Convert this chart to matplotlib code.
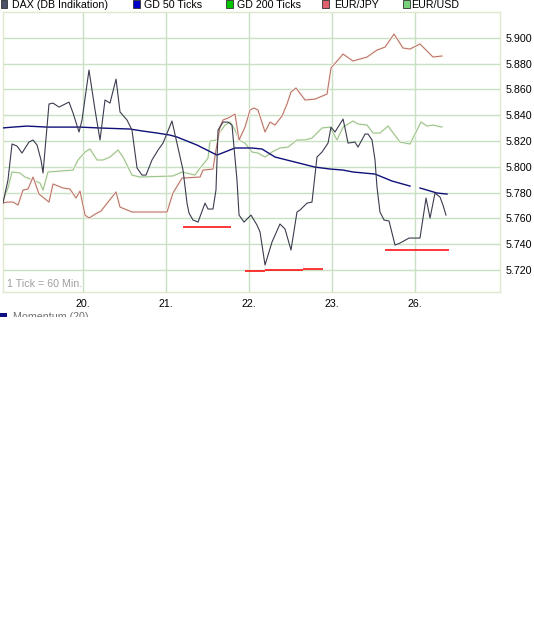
import numpy as np
import matplotlib
matplotlib.use("Agg")
import matplotlib.pyplot as plt
from matplotlib.patches import Rectangle
import matplotlib.patheffects as pe

plt.rcParams['font.family'] = ['Liberation Sans', 'DejaVu Sans']

# ---------------- data (time in trading days from "20.", price in points) ----------------
day_ticks = [0, 1, 2, 3, 4]
day_labels = ["20.", "21.", "22.", "23.", "26."]

price_ticks = [5.720, 5.740, 5.760, 5.780, 5.800, 5.820, 5.840, 5.860, 5.880, 5.900]
price_labels = ["5.720", "5.740", "5.760", "5.780", "5.800", "5.820", "5.840", "5.860", "5.880", "5.900"]

dax_time = [-0.964, -0.904, -0.855, -0.795, -0.735, -0.651, -0.602, -0.554, -0.506, -0.482,
            -0.434, -0.410, -0.361, -0.289, -0.169, -0.120, -0.048, -0.012, 0.072, 0.145,
            0.205, 0.265, 0.325, 0.398, 0.446, 0.530, 0.590, 0.651, 0.711, 0.759,
            0.831, 0.904, 0.964, 1.072, 1.205, 1.253, 1.277, 1.325, 1.386, 1.470,
            1.506, 1.566, 1.602, 1.627, 1.687, 1.747, 1.795, 1.855, 1.880, 1.940,
            2.024, 2.096, 2.133, 2.193, 2.277, 2.373, 2.434, 2.506, 2.578, 2.614,
            2.699, 2.759, 2.819, 2.880, 2.952, 2.988, 3.036, 3.133, 3.169, 3.193,
            3.277, 3.313, 3.398, 3.434, 3.482, 3.518, 3.542, 3.578, 3.627, 3.687,
            3.759, 3.819, 3.928, 4.060, 4.133, 4.181, 4.241, 4.301, 4.337, 4.373]
dax_value = [5.7719, 5.7898, 5.8177, 5.8161, 5.8107, 5.8192, 5.8208, 5.8169, 5.8053, 5.7952,
             5.8308, 5.8487, 5.8494, 5.8463, 5.8502, 5.8417, 5.8270, 5.8363, 5.8750, 5.8440,
             5.8208, 5.8518, 5.8494, 5.8680, 5.8425, 5.8363, 5.8285, 5.7991, 5.7936, 5.7936,
             5.8053, 5.8130, 5.8184, 5.8355, 5.7975, 5.7719, 5.7642, 5.7588, 5.7572, 5.7719,
             5.7673, 5.7673, 5.7820, 5.8285, 5.8347, 5.8347, 5.8324, 5.7898, 5.7626, 5.7572,
             5.7626, 5.7549, 5.7495, 5.7239, 5.7417, 5.7557, 5.7518, 5.7355, 5.7650, 5.7665,
             5.7719, 5.7727, 5.8076, 5.8115, 5.8184, 5.8308, 5.8270, 5.8370, 5.8262, 5.8184,
             5.8192, 5.8153, 5.8254, 5.8254, 5.8208, 5.8053, 5.7843, 5.7650, 5.7588, 5.7580,
             5.7394, 5.7409, 5.7448, 5.7448, 5.7758, 5.7603, 5.7797, 5.7766, 5.7704, 5.7626]

gd50_time = [-0.976, -0.843, -0.675, -0.434, -0.036, 0.205, 0.566, 0.723, 0.892, 1.048,
             1.133, 1.373, 1.614, 1.831, 2.036, 2.157, 2.313, 2.554, 2.795, 2.976,
             3.133, 3.253, 3.518, 3.723, 3.940, 4.000, 4.060, 4.265, 4.386]
gd50_value = [5.8301, 5.8308, 5.8316, 5.8308, 5.8308, 5.8301, 5.8293, 5.8277, 5.8262, 5.8246,
              5.8231, 5.8169, 5.8091, 5.8146, 5.8146, 5.8138, 5.8076, 5.8037, 5.7998, 5.7983,
              5.7975, 5.7960, 5.7944, 5.7890, 5.7851, np.nan, 5.7836, 5.7797, 5.7789]

eurjpy_time = [-0.964, -0.916, -0.843, -0.783, -0.723, -0.663, -0.602, -0.530, -0.410, -0.361,
               -0.241, -0.157, -0.084, -0.036, 0.024, 0.072, 0.169, 0.217, 0.301, 0.398,
               0.446, 0.590, 1.012, 1.084, 1.193, 1.410, 1.446, 1.566, 1.602, 1.651,
               1.687, 1.747, 1.831, 1.880, 1.952, 2.012, 2.060, 2.108, 2.193, 2.253,
               2.313, 2.398, 2.458, 2.506, 2.566, 2.675, 2.795, 2.940, 2.988, 3.072,
               3.133, 3.253, 3.422, 3.542, 3.639, 3.747, 3.855, 3.940, 4.060, 4.217,
               4.325]
eurjpy_value = [5.7719, 5.7727, 5.7727, 5.7704, 5.7820, 5.7828, 5.7921, 5.7789, 5.7727, 5.7867,
                5.7836, 5.7828, 5.7758, 5.7812, 5.7626, 5.7603, 5.7642, 5.7657, 5.7727, 5.7805,
                5.7688, 5.7650, 5.7650, 5.7797, 5.7913, 5.7921, 5.7975, 5.7983, 5.8130, 5.8308,
                5.8363, 5.8378, 5.8409, 5.8208, 5.8308, 5.8440, 5.8456, 5.8440, 5.8270, 5.8347,
                5.8324, 5.8394, 5.8487, 5.8580, 5.8611, 5.8518, 5.8525, 5.8564, 5.8766, 5.8828,
                5.8874, 5.8820, 5.8851, 5.8905, 5.8928, 5.9029, 5.8921, 5.8913, 5.8952, 5.8851,
                5.8859]

eurusd_time = [-0.964, -0.904, -0.855, -0.759, -0.699, -0.602, -0.518, -0.482, -0.422, -0.120,
               -0.060, 0.024, 0.084, 0.169, 0.241, 0.325, 0.422, 0.482, 0.590, 0.687,
               1.084, 1.193, 1.349, 1.410, 1.470, 1.506, 1.530, 1.614, 1.651, 1.711,
               1.771, 1.831, 1.880, 1.952, 2.036, 2.108, 2.193, 2.277, 2.373, 2.470,
               2.578, 2.675, 2.759, 2.880, 2.976, 3.060, 3.133, 3.253, 3.313, 3.422,
               3.494, 3.578, 3.675, 3.819, 3.940, 4.072, 4.145, 4.217, 4.325]
eurusd_value = [5.7743, 5.7836, 5.7960, 5.7952, 5.7921, 5.7898, 5.7874, 5.7820, 5.7960, 5.7975,
                5.8053, 5.8115, 5.8138, 5.8053, 5.8053, 5.8076, 5.8130, 5.8076, 5.7936, 5.7921,
                5.7929, 5.7960, 5.7936, 5.7991, 5.8037, 5.8068, 5.8200, 5.8208, 5.8270, 5.8324,
                5.8347, 5.8285, 5.8208, 5.8184, 5.8115, 5.8107, 5.8076, 5.8115, 5.8146, 5.8153,
                5.8208, 5.8208, 5.8223, 5.8301, 5.8308, 5.8208, 5.8308, 5.8355, 5.8332, 5.8324,
                5.8262, 5.8262, 5.8316, 5.8192, 5.8177, 5.8347, 5.8316, 5.8324, 5.8308]

# support levels: (start time, end time, level)
support_start = [1.205, 1.952, 2.193, 2.651, 3.639]
support_end = [1.783, 2.193, 2.651, 2.892, 4.410]
support_level = [5.7533, 5.7192, 5.7200, 5.7208, 5.7355]

legend_names = ["DAX (DB Indikation)", "GD 50 Ticks", "GD 200 Ticks", "EUR/JPY", "EUR/USD"]
legend_colors = ["#4a5068", "#0000c8", "#00c800", "#e06070", "#78d078"]

# ---------------- figure ----------------
W, H = 534, 617
fig = plt.figure(figsize=(W / 100, H / 100), dpi=100)
fig.patch.set_facecolor("white")

def fx(px):
    return px / W

def fy(py):
    return 1 - py / H

ax_l, ax_r, ax_t, ax_b = 2.5, 500, 12, 292
ax = fig.add_axes([fx(ax_l), fy(ax_b), fx(ax_r) - fx(ax_l), fy(ax_t) - fy(ax_b)])
ax.set_facecolor("white")
ax.set_xlim(-0.970, 5.024)
ax.set_ylim(5.7030, 5.9200)

grid_c = "#c8e0c4"
for v in price_ticks:
    ax.axhline(v, color=grid_c, lw=1.0, zorder=1)
for d in day_ticks:
    ax.axvline(d, color=grid_c, lw=1.0, zorder=1)

halo = [pe.Stroke(linewidth=2.0, foreground="#fdf7ea"), pe.Normal()]
ax.plot(eurusd_time, eurusd_value, color="#90c490", lw=0.75, zorder=3, path_effects=halo)
ax.plot(eurjpy_time, eurjpy_value, color="#b86e6e", lw=0.75, zorder=3, path_effects=halo)
ax.plot(gd50_time, gd50_value, color="#10107a", lw=1.0, zorder=4)
ax.plot(dax_time, dax_value, color="#3c3c50", lw=0.8, zorder=5)
ax.hlines(support_level, support_start, support_end, color="#ff0000", lw=1.1, zorder=6)

ax.yaxis.tick_right()
ax.set_yticks(price_ticks)
ax.set_yticklabels(price_labels)
ax.set_xticks(day_ticks)
ax.set_xticklabels(day_labels)
ax.tick_params(axis="both", length=0, labelsize=7.7, colors="#000000")
ax.tick_params(axis="y", pad=4)
ax.tick_params(axis="x", pad=5)
for s in ax.spines.values():
    s.set_color("#dde8cc")
    s.set_linewidth(1.0)

fig.text(fx(7), fy(284), "1 Tick = 60 Min.", fontsize=7.7, color="#a0a0a0", va="center", ha="left")

# legend row
leg_sq_x = [0.5, 133, 226, 322, 403]
leg_tx_x = [12, 144, 237, 334, 411]
for sx, tx, name, col in zip(leg_sq_x, leg_tx_x, legend_names, legend_colors):
    fig.patches.append(Rectangle((fx(sx), fy(8)), fx(6.5), 7.5 / H, transform=fig.transFigure,
                                 facecolor=col, edgecolor="#303030", lw=0.6))
    fig.text(fx(tx), fy(4.5), name, fontsize=7.7, color="#000000", va="center", ha="left")

# partially visible momentum panel label (lower panel cut off by the image edge of the chart)
clip_ax = fig.add_axes([0, fy(316.5), 0.4, fy(310) - fy(316.5)])
clip_ax.set_axis_off()
clip_ax.set_xlim(0, 1)
clip_ax.set_ylim(0, 1)
r = Rectangle((0, -1), 7 / (0.4 * W), 1.55, facecolor="#101080", edgecolor="none", clip_on=True)
clip_ax.add_patch(r)
clip_ax.text(13 / (0.4 * W), 0.62, "Momentum (20)", fontsize=7.7, color="#707070",
             va="top", ha="left", clip_on=True)

fig.savefig("out.png", dpi=100)
